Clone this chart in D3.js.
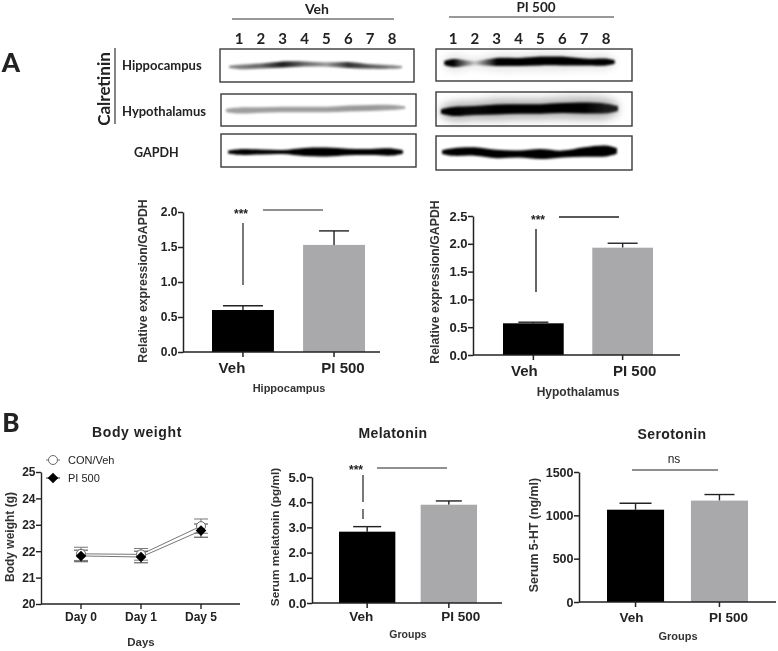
<!DOCTYPE html>
<html><head><meta charset="utf-8">
<script src="https://cdn.jsdelivr.net/npm/d3@7/dist/d3.min.js"></script>
<style>html,body{margin:0;padding:0;background:#fff}svg{display:block}
text{fill:#222}</style></head><body><div id="c"></div>
<script>
const lanes = [1,2,3,4,5,6,7,8];
const groups = ["Veh","PI 500"];
const days = ["Day 0","Day 1","Day 5"];

const hipMean = [0.60,1.53], hipUpper = [0.66,1.73];
const hypMean = [0.57,1.93], hypUpper = [0.59,2.01];
const melMean = [2.83,3.90], melUpper = [3.03,4.05];
const serMean = [1065,1170], serUpper = [1140,1240];
const conWeight = [21.90,21.88,22.95], conErr = [0.25,0.22,0.27];
const piWeight  = [21.82,21.78,22.78], piErr  = [0.22,0.22,0.25];

const vehHipDark = [.5,.6,.9,.6,.4,.8,.65,.5], vehHipThick=[2.2,2.5,3,2.6,2.2,3,2.2,1.8], vehHipOff=[1.5,.5,-1,-1.5,-1,-.5,1,1.5];
const vehHypDark = [.38,.38,.38,.38,.38,.4,.4,.38], vehHypThick=[3,2.8,2.8,2.8,2.8,3,3,2.6], vehHypOff=[1.5,1,.5,.5,.5,-.5,-1,-1.5];
const vehGapDark = [1,1,1,1,1,1,1,1], vehGapThick=[2.8,2.4,2,4,4.4,3.2,3,3.6], vehGapOff=[0,0,0,0,0,0,0,0];
const piHipDark = [1,.15,1,1,1,1,1,1], piHipThick=[4,2,4,4,4.4,4.4,3.4,3.4], piHipOff=[1,1,0,0,-1,-1,0,0];
const piHypDark = [1,.95,1,1,1,1,1,.85], piHypThick=[4.4,4.4,5,4.8,4.8,5,5.4,4.8], piHypOff=[2.5,1.5,.5,0,0,-1,-1,-.5];
const piGapDark = [1,1,1,1,1,1,1,1], piGapThick=[3.8,4.2,4.2,3.6,5,3.4,4.8,5.4], piGapOff=[0,-.5,2,2,2,2,0,-1];

const W = 778, H = 651;
const AF = "'Liberation Sans',Arial,sans-serif", CF = "Lato,'Open Sans',sans-serif";
const svg = d3.select("#c").append("svg").attr("width",W).attr("height",H);
const defs = svg.append("defs");
const blur=(id,s)=>defs.append("filter").attr("id",id).attr("filterUnits","userSpaceOnUse").attr("x",0).attr("y",0).attr("width",W).attr("height",H)
  .append("feGaussianBlur").attr("stdDeviation",s);
blur("band",1.2); blur("smear",4); blur("soft",0.55);
const root = svg.append("g").attr("filter","url(#soft)");

function txt(s,x,y,o={}){
  const t = root.append("text").attr("x",x).attr("y",y).text(s)
    .attr("font-family",o.f||AF).attr("font-size",o.s||12).attr("font-weight",o.w||"bold")
    .attr("text-anchor",o.a||"middle").attr("dominant-baseline","central");
  if(o.r) t.attr("transform",`rotate(${o.r} ${x} ${y})`);
  if(o.ls) t.attr("letter-spacing",o.ls);
  if(o.c) t.style("fill",o.c);
  return t;
}
function seg(x1,y1,x2,y2,sw=1.2,c="#222"){
  root.append("line").attr("x1",x1).attr("y1",y1).attr("x2",x2).attr("y2",y2).attr("stroke",c).attr("stroke-width",sw);
}

// ---------- blots ----------
let gid = 0;
function blot(box,xs,over,cy,dark,thick,off,smear){
  const g = root.append("g");
  const sx = d3.scaleLinear().domain([1,8]).range(xs);
  const y = v=>cy+v;
  const pts = [{l:1-over,t:thick[0]*.5,o:off[0]},
    ...lanes.map((l,i)=>({l,t:thick[i],o:off[i]})),
    {l:8+over,t:thick[7]*.5,o:off[7]}];
  const area = d3.area().curve(d3.curveCatmullRom.alpha(.5)).x(d=>sx(d.l));
  const id = "g"+(gid++);
  const grad = defs.append("linearGradient").attr("id",id).attr("gradientUnits","userSpaceOnUse")
    .attr("x1",sx(1)).attr("x2",sx(8)).attr("y1",0).attr("y2",0);
  lanes.forEach((l,i)=>grad.append("stop").attr("offset",i/7).attr("stop-color","#000").attr("stop-opacity",dark[i]));
  if(smear){
    g.append("path").attr("filter","url(#smear)")
      .attr("d",area.y0(d=>y(d.o-d.t*2.1)).y1(d=>y(d.o+d.t*2.1))(pts))
      .attr("fill","#000").attr("opacity",smear);
  }
  g.append("path").attr("filter","url(#band)")
    .attr("d",area.y0(d=>y(d.o-d.t)).y1(d=>y(d.o+d.t))(pts))
    .attr("fill",`url(#${id})`);
  root.append("rect").attr("x",box[0]).attr("y",box[1]).attr("width",box[2]-box[0]).attr("height",box[3]-box[1])
    .attr("fill","none").attr("stroke","#3a3a3a").attr("stroke-width",1.4);
}
const vx=[239,392], px=[453,606];
blot([220,49,414,82],vx,.45,65.5,vehHipDark,vehHipThick,vehHipOff);
blot([221,94,416,126],vx,.6,109,vehHypDark,vehHypThick,vehHypOff);
blot([221,134,416,167],vx,.5,152,vehGapDark,vehGapThick,vehGapOff);
blot([436,49,632,81],px,.4,62,piHipDark,piHipThick,piHipOff,0.1);
blot([436,92,632,126],px,.55,109,piHypDark,piHypThick,piHypOff,0.3);
blot([436,136,632,170],px,.5,152,piGapDark,piGapThick,piGapOff);

const laneV = d3.scalePoint().domain(lanes).range(vx), laneP = d3.scalePoint().domain(lanes).range(px);
lanes.forEach(l=>{ txt(l,laneV(l),38,{f:CF,s:15}); txt(l,laneP(l),38,{f:CF,s:15}); });
txt("Veh",317,8,{f:CF,s:14}); seg(232,19,394,19,1,"#333");
txt("PI 500",536,7,{f:CF,s:13.5}); seg(449,17,614,17,1,"#333");
txt("Hippocampus",122,64.5,{f:CF,s:13,a:"start"});
txt("Hypothalamus",122,110.5,{f:CF,s:13,a:"start"});
txt("GAPDH",134,152,{f:CF,s:12.5,a:"start"});
txt("Calretinin",103,89,{f:CF,s:17,r:-90});
seg(115,48,115,124,1.2,"#333");
txt("A",11,62,{f:CF,s:26,w:"900"});
txt("B",11,422,{f:CF,s:26,w:"900"});

// ---------- bar panels ----------
function barPanel(p){
  const x = d3.scaleBand().domain(groups).range(p.barX).paddingInner(p.pad);
  const y = d3.scaleLinear().domain(p.dom).range([p.y0,p.y1]);
  const g = root.append("g");
  const colors = ["#000","#a9a9ab"];
  const cx = d=>x(d)+x.bandwidth()/2;
  g.selectAll("line.e").data(groups).join("line").attr("class","e").attr("stroke","#222").attr("stroke-width",1.4)
    .attr("x1",cx).attr("x2",cx)
    .attr("y1",(d,i)=>y(p.mean[i])).attr("y2",(d,i)=>y(p.upper[i]));
  g.selectAll("line.c").data(groups).join("line").attr("class","c").attr("stroke","#222").attr("stroke-width",1.4)
    .attr("x1",(d,i)=>cx(d)-p.cap[i]).attr("x2",(d,i)=>cx(d)+p.cap[i])
    .attr("y1",(d,i)=>y(p.upper[i])).attr("y2",(d,i)=>y(p.upper[i]));
  g.selectAll("rect").data(groups).join("rect")
    .attr("x",d=>x(d)).attr("width",x.bandwidth())
    .attr("y",(d,i)=>y(p.mean[i])).attr("height",(d,i)=>y(0)-y(p.mean[i]))
    .attr("fill",(d,i)=>colors[i]);
  const ya = d3.axisLeft(y).tickValues(p.ticks).tickFormat(p.fmt).tickSize(5).tickSizeOuter(0);
  const ax = g.append("g").attr("transform",`translate(${p.axisX},0)`).call(ya);
  ax.selectAll("text").attr("font-family",AF).attr("font-weight","bold").attr("font-size",p.tickFont).attr("x",-5.5);
  ax.selectAll("line,path").attr("stroke","#222").attr("stroke-width",1.5);
  seg(p.axisX,p.y0,p.axisEnd,p.y0,1.5);
  groups.forEach((d,i)=>{
    seg(cx(d),p.y0,cx(d),p.y0+5,1.5);
    txt(d,cx(d)+p.labelDx[i],p.labelY,{s:p.labelFont});
  });
  txt(p.yTitle,p.yTitleX,p.yTitleY,{s:p.yFont,r:-90,c:"#333"});
  txt(p.xTitle,p.xTitlePos[0],p.xTitlePos[1],{s:p.xFont,c:"#333"});
}
const f1 = d3.format(".1f");
barPanel({barX:[212,365],pad:.32,dom:[0,2],y0:352,y1:212,axisX:183,axisEnd:380,mean:hipMean,upper:hipUpper,cap:[20,15],
  ticks:[0,.5,1,1.5,2],fmt:f1,tickFont:12,labelDx:[-11,9],labelY:367,labelFont:15,
  yTitle:"Relative expression/GAPDH",yTitleX:143,yTitleY:281,yFont:12.3,xTitle:"Hippocampus",xTitlePos:[289,388],xFont:11});
barPanel({barX:[503,653],pad:.32,dom:[0,2.5],y0:355,y1:216,axisX:473,axisEnd:680,mean:hypMean,upper:hypUpper,cap:[15,15],
  ticks:[0,.5,1,1.5,2,2.5],fmt:f1,tickFont:13,labelDx:[-9,12],labelY:370,labelFont:15,
  yTitle:"Relative expression/GAPDH",yTitleX:435,yTitleY:282,yFont:12.3,xTitle:"Hypothalamus",xTitlePos:[578,392],xFont:12});
barPanel({barX:[339,477],pad:.31,dom:[0,5],y0:603,y1:477,axisX:312,axisEnd:502,mean:melMean,upper:melUpper,cap:[14,13],
  ticks:[0,1,2,3,4,5],fmt:f1,tickFont:13,labelDx:[-6,12],labelY:616,labelFont:13.5,
  yTitle:"Serum melatonin (pg/ml)",yTitleX:275,yTitleY:537,yFont:11.8,xTitle:"Groups",xTitlePos:[408,634],xFont:10.5});
barPanel({barX:[607,748],pad:.32,dom:[0,1500],y0:602,y1:472,axisX:579,axisEnd:776,mean:serMean,upper:serUpper,cap:[16,15],
  ticks:[0,500,1000,1500],fmt:d3.format("d"),tickFont:12.5,labelDx:[-4,9],labelY:617,labelFont:13.5,
  yTitle:"Serum 5-HT (ng/ml)",yTitleX:534,yTitleY:535,yFont:12.4,xTitle:"Groups",xTitlePos:[678,636],xFont:11});

// significance marks
txt("***",241,214,{s:12});  seg(243,223,243,285); seg(263,210,323,210);
txt("***",538,220,{s:12});  seg(536,229,536,292,1.4); seg(559,217,619,217,1.4);
txt("***",356,470,{s:12});  seg(363,475,363,502); seg(363,509,363,519); seg(377,468,447,468);
txt("ns",674,459,{s:12,w:"normal"}); seg(632,470,718,470);

txt("Body weight",137,432,{s:14,ls:.6});
txt("Melatonin",393,433,{s:14,ls:.4});
txt("Serotonin",672,434,{s:14,ls:.4});

// ---------- body weight ----------
{
  const x = d3.scalePoint().domain(days).range([81,201]);
  const y = d3.scaleLinear().domain([20,25]).range([604,472]);
  const ax = root.append("g").attr("transform","translate(41,0)")
    .call(d3.axisLeft(y).tickValues([20,21,22,23,24,25]).tickFormat(d3.format("d")).tickSize(5).tickSizeOuter(0));
  ax.selectAll("text").attr("font-family",AF).attr("font-weight","bold").attr("font-size",12).attr("x",-5.5);
  ax.selectAll("line,path").attr("stroke","#222").attr("stroke-width",1.4);
  seg(41,604,240,604,1.4);
  days.forEach(d=>{ seg(x(d),604,x(d),609,1.4); txt(d,x(d),617,{s:12}); });
  const line = d3.line().x((d,i)=>x(days[i])).y(d=>y(d));
  root.append("path").attr("d",line(conWeight)).attr("fill","none").attr("stroke","#777").attr("stroke-width",1);
  root.append("path").attr("d",line(piWeight)).attr("fill","none").attr("stroke","#777").attr("stroke-width",1);
  days.forEach((d,i)=>{
    const bars=(v,e,c)=>{
      seg(x(d),y(v-e),x(d),y(v+e),1,c);
      seg(x(d)-7,y(v-e),x(d)+7,y(v-e),1,c);
      seg(x(d)-7,y(v+e),x(d)+7,y(v+e),1,c);
    };
    bars(conWeight[i],conErr[i],"#777");
    bars(piWeight[i],piErr[i],"#444");
    root.append("circle").attr("cx",x(d)).attr("cy",y(conWeight[i])).attr("r",4.5).attr("fill","#fff").attr("stroke","#666").attr("stroke-width",1);
  });
  const dia = d3.symbol().type(d3.symbolDiamond2).size(72);
  days.forEach((d,i)=>{
    root.append("path").attr("d",dia()).attr("transform",`translate(${x(d)},${y(piWeight[i])})`).attr("fill","#000");
  });
  seg(46,460,60,460,1,"#777");
  root.append("circle").attr("cx",53).attr("cy",460).attr("r",4.5).attr("fill","#fff").attr("stroke","#666");
  seg(46,478,60,478,1,"#333");
  root.append("path").attr("d",dia()).attr("transform","translate(53,478)").attr("fill","#000");
  txt("CON/Veh",68,460,{s:11,w:"normal",a:"start"});
  txt("PI 500",68,478,{s:11,w:"normal",a:"start"});
  txt("Body weight (g)",10,537,{s:12,r:-90,c:"#333"});
  txt("Days",141,642,{s:11.5,c:"#333"});
}
</script></body></html>
